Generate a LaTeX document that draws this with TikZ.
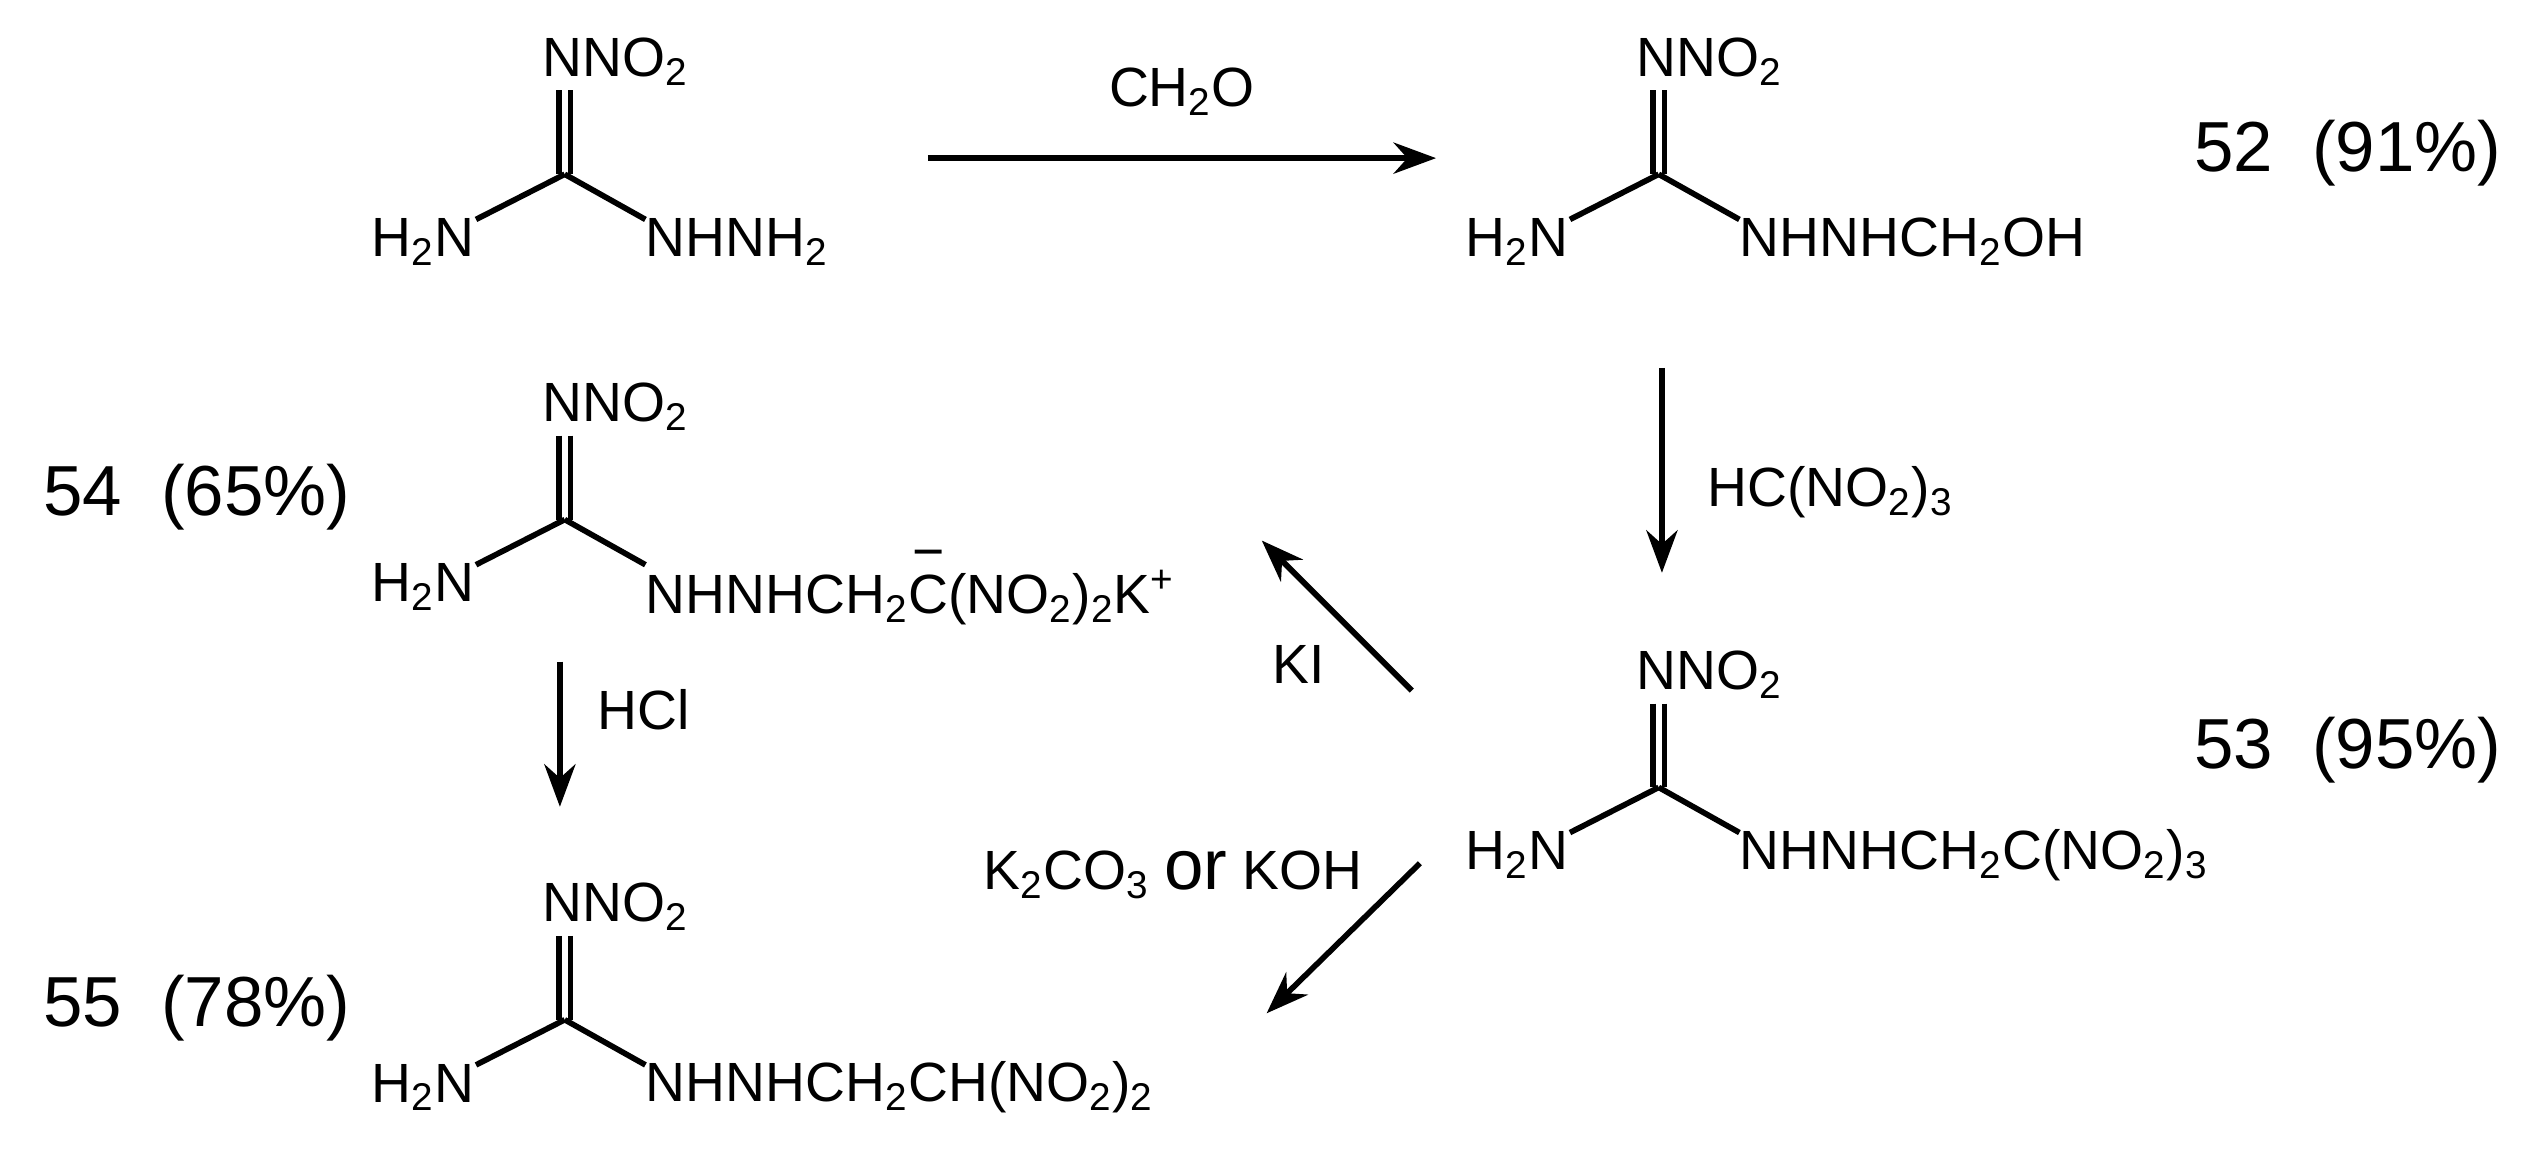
\documentclass[tikz,border=0pt]{standalone}
\usepackage{fontspec}
\setmainfont{Liberation Sans}
\usetikzlibrary{arrows.meta}
\newcommand{\subs}[1]{\textsubscript{#1}}
\newcommand{\guan}[4]{% name, cx, cy, right text
  \node[chem,anchor=west] (#1n) at (#2-14,#3-70) {NNO\subs{2}};
  \node[chem] (#1h) at (#2-88,#3+42) {H\subs{2}N};
  \node[chem,anchor=west] (#1r) at (#2+50,#3+42) {#4};
  \coordinate (#1c) at (#2,#3);
  \draw[bond] (#2-3.5,#3-52) -- (#2-3.5,#3);
  \draw[bond] (#2+3.5,#3-52) -- (#2+3.5,#3);
  \draw[bond] (#2,#3) -- (#2-55,#3+28);
  \draw[bond] (#2,#3) -- (#2+50,#3+28);
}
\begin{document}
\begin{tikzpicture}[x=0.02cm,y=-0.02cm,
  chem/.style={font=\fontsize{19.5}{22}\selectfont,inner sep=0pt},
  big/.style={font=\fontsize{25}{28}\selectfont,inner sep=0pt},
  bond/.style={line width=2pt},
  rxn/.style={line width=2pt,-{Stealth[length=15pt,width=11pt]}}]
\useasboundingbox (0,0) rectangle (1568,714);
\guan{a}{350}{108}{NHNH\subs{2}}
\guan{b}{1028}{108}{NHNHCH\subs{2}OH}
\guan{c}{350}{322}{NHNHCH\subs{2}C\llap{\raisebox{0.78em}{\makebox[0.72em]{\textminus}}}(NO\subs{2})\subs{2}K\textsuperscript{+}}
\guan{d}{1028}{488}{NHNHCH\subs{2}C(NO\subs{2})\subs{3}}
\guan{e}{350}{632}{NHNHCH\subs{2}CH(NO\subs{2})\subs{2}}
\coordinate (p1) at (575,98); \coordinate (p2) at (890,98);
\draw[rxn] (p1) -- (p2) node[chem,midway,above=14pt] (l1) {CH\subs{2}O};
\coordinate (p3) at (1030,228); \coordinate (p4) at (1030,355);
\draw[rxn] (p3) -- (p4);
\node[chem,anchor=west] (l2) at (1058,305) {HC(NO\subs{2})\subs{3}};
\coordinate (p5) at (875,428); \coordinate (p6) at (782,335);
\draw[rxn] (p5) -- (p6);
\node[chem] (l3) at (805,412) {KI};
\coordinate (p7) at (880,535); \coordinate (p8) at (785,628);
\draw[rxn] (p7) -- (p8);
\node[chem] (l4) at (727,542) {K\subs{2}CO\subs{3} {\fontsize{25}{26}\selectfont or} KOH};
\coordinate (p9) at (347,410); \coordinate (p10) at (347,500);
\draw[rxn] (p9) -- (p10);
\node[chem,anchor=west] (l5) at (370,440) {HCl};
\node[big] (n52) at (1455,95) {52~~(91\%)};
\node[big] (n53) at (1455,465) {53~~(95\%)};
\node[big] (n54) at (122,308) {54~~(65\%)};
\node[big] (n55) at (122,625) {55~~(78\%)};
\end{tikzpicture}
\end{document}
